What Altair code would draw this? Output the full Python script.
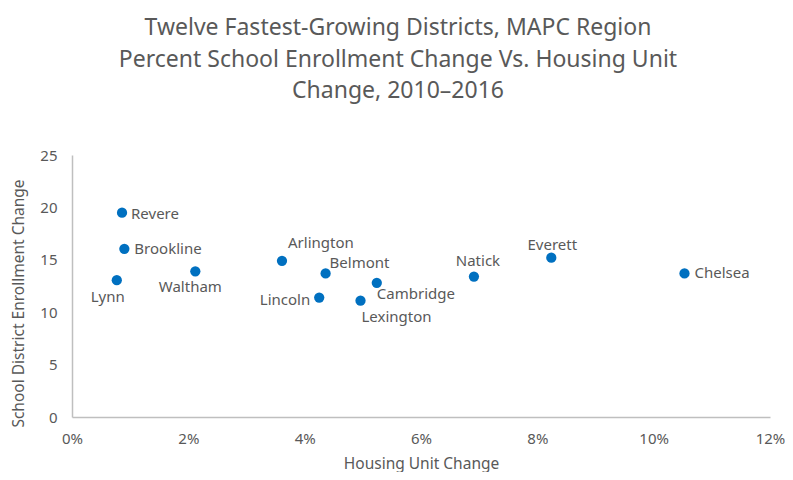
import altair as alt
import pandas as pd

districts = ["Revere", "Brookline", "Lynn", "Waltham", "Arlington", "Belmont",
             "Lincoln", "Lexington", "Cambridge", "Natick", "Everett", "Chelsea"]
housing_change = [0.86, 0.90, 0.77, 2.12, 3.61, 4.36, 4.25, 4.96, 5.24, 6.91, 8.24, 10.53]
enrollment_change = [19.5, 16.05, 13.05, 13.9, 14.9, 13.7, 11.4, 11.1, 12.8, 13.4, 15.2, 13.7]
x_ticks = [0, 2, 4, 6, 8, 10, 12]
y_ticks = [0, 5, 10, 15, 20, 25]

df = pd.DataFrame({"district": districts, "housing": housing_change,
                   "enroll": enrollment_change})

FONT = "Noto Sans"
GREY = "#595959"

# label placement (align, dx, dy) per district
placement = {
    "Revere": ("left", 9, 1),
    "Brookline": ("left", 10, 0),
    "Lynn": ("center", -9, 17),
    "Waltham": ("center", -5, 16),
    "Arlington": ("left", 6, -18),
    "Belmont": ("left", 4, -10),
    "Lincoln": ("right", -9, 2),
    "Lexington": ("left", 1, 16),
    "Cambridge": ("left", 0, 11),
    "Natick": ("center", 4, -16),
    "Everett": ("center", 1, -13),
    "Chelsea": ("left", 10, 0),
}

x_enc = alt.X("housing:Q", scale=alt.Scale(domain=[0, 12], nice=False),
              axis=alt.Axis(values=x_ticks, labelExpr="datum.value + '%'",
                            title="Housing Unit Change", grid=False, ticks=False,
                            labelFlush=False, domainColor="#BFBFBF",
                            labelPadding=14, titlePadding=10))
y_enc = alt.Y("enroll:Q", scale=alt.Scale(domain=[0, 25], nice=False),
              axis=alt.Axis(values=y_ticks, title="School District Enrollment Change",
                            grid=False, ticks=False, labelFlush=False,
                            domainColor="#BFBFBF", labelPadding=15,
                            titlePadding=13, titleY=148))

base = alt.Chart(df)
points = base.mark_circle(size=105, color="#0070C0", opacity=1).encode(x=x_enc, y=y_enc)

layers = [points]
for name in districts:
    align, dx, dy = placement[name]
    layers.append(
        base.transform_filter(alt.datum.district == name)
        .mark_text(align=align, baseline="middle", dx=dx, dy=dy, font=FONT,
                   fontSize=15, color=GREY)
        .encode(x="housing:Q", y="enroll:Q", text="district:N")
    )

chart = alt.layer(*layers).properties(
    width=698, height=262,
    padding={"left": 64, "top": 147, "right": 15, "bottom": 55},
    autosize=alt.AutoSizeParams(type="none"),
    title=alt.Title(
        ["Twelve Fastest-Growing Districts, MAPC Region",
         "Percent School Enrollment Change Vs. Housing Unit",
         "Change, 2010\u20132016"],
        font=FONT, fontSize=23, fontWeight="normal", color=GREY,
        anchor="middle", dx=-23, offset=45, lineHeight=31.5),
).configure_view(stroke=None).configure_axis(
    labelFont=FONT, titleFont=FONT, labelFontSize=15, titleFontSize=15.5,
    labelColor=GREY, titleColor=GREY, titleFontWeight="normal",
    domainWidth=1.5,
)

chart.save("out.html", embed_options={"renderer": "svg", "actions": False})
